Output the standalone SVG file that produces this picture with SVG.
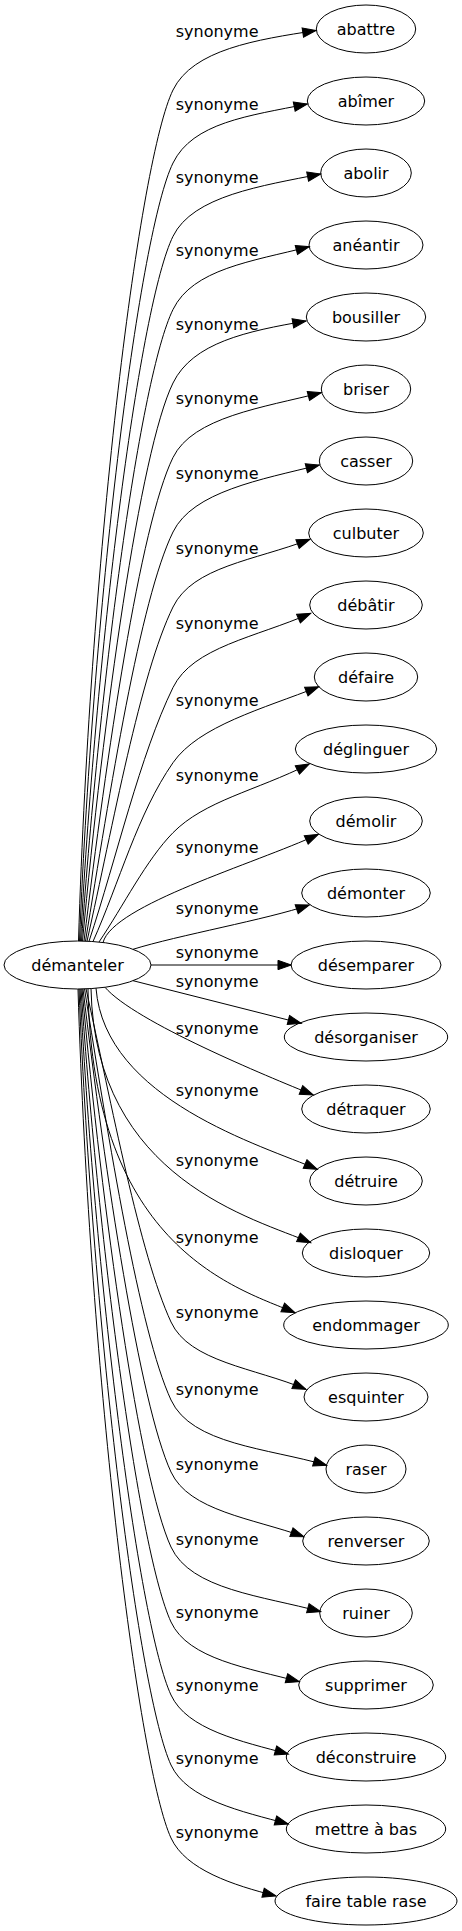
<svg xmlns="http://www.w3.org/2000/svg" width="462" height="1931" viewBox="0 0 462 1931">
<style>
text{font-family:"DejaVu Sans","Liberation Sans",sans-serif;font-size:16px;fill:#000;text-anchor:middle}
.node ellipse{fill:none;stroke:#000;stroke-width:1}
#edges path{fill:none;stroke:#000;stroke-width:1;marker-end:url(#arr)}
</style>
<defs>
<marker id="arr" markerUnits="userSpaceOnUse" markerWidth="14" markerHeight="10" viewBox="0 0 14 10" refX="13.33" refY="5" orient="auto" overflow="visible">
<path d="M0,0.33 L13.33,5 L0,9.67 Z" fill="#000" stroke="#000" stroke-width="1"/>
</marker>
</defs>
<rect width="462" height="1931" fill="#fff"/>
<g id="edges">
<path d="M78.5,941 C90.8,541 140,157.5 173,90 C192.8,49.5 256.7,39.6 316,30.5"/>
<path d="M79.5,941 C93.9,588.6 140,230.5 173,163 C192.8,122.5 248.5,115.9 307.3,104"/>
<path d="M80.5,941 C97.1,634 140,303.8 173,236.3 C192.8,195.8 261.9,185.8 320.7,174"/>
<path d="M81.5,941 C100.1,676.8 140,377 173,309.5 C192.8,269 251.2,261.5 309.3,246.7"/>
<path d="M82.5,941.1 C103.2,717.2 140,450.5 173,383 C192.8,342.5 246.9,331.2 306,321"/>
<path d="M84,941.1 C106.5,755.5 140,525 173,457.5 C192.8,417 263.2,407.5 321.3,392.7"/>
<path d="M85.5,941.1 C109.9,791.3 140,599.5 173,532 C192.8,491.5 261,479.5 319.3,465"/>
<path d="M87,941.2 C113.1,824.7 140,674.5 173,607 C192.8,566.5 254,560.7 310,539.3"/>
<path d="M89,941.3 C116.7,857.5 140,755 173,687.5 C192.8,647 255.7,637.4 310.7,613.3"/>
<path d="M93,941.5 C119.4,882.5 137.3,814 173,762.7 C198.7,725.8 262.9,708.7 318.7,686.7"/>
<path d="M99,942 C123.4,905.9 146.2,859.9 173,832.7 C204.5,800.7 255.7,790.8 309.3,764"/>
<path d="M103,942.5 C113,905 254.8,863.7 318.3,834.3"/>
<path d="M133,949.3 C178,935.3 266.7,919.5 309.3,905"/>
<path d="M151,965 L291.3,965"/>
<path d="M133,980.7 L301.3,1023.3"/>
<path d="M105,987.3 C135,1022 267,1076.2 313.3,1095"/>
<path d="M96,988.2 C105,1100 262.2,1145.5 317.3,1169.3"/>
<path d="M91,988.6 C95,1180 255.7,1218.8 310.7,1242.7"/>
<path d="M88,988.75 C92,1250 239.8,1289.1 295,1312.7"/>
<path d="M86,988.8 C111.8,1104.8 139.5,1253.7 171,1322 C189.5,1362 254.3,1367.7 306,1389.3"/>
<path d="M84.5,988.9 C108.5,1139.6 139.5,1331.7 171,1400 C191.6,1444.6 267.2,1448 326.7,1465.3"/>
<path d="M83,988.9 C105.3,1174.2 139.5,1403.7 171,1472 C189.1,1511.1 252.2,1518.2 304,1536.7"/>
<path d="M82,988.9 C102.3,1212.8 139.5,1478.7 171,1547 C190.7,1589.8 262.9,1595.9 320.7,1611.7"/>
<path d="M81,989 C99.3,1254.1 139.5,1553.7 171,1622 C188.2,1659.3 249.1,1668.2 299.3,1681.7"/>
<path d="M80,989 C96.3,1296.7 139.5,1626.7 171,1695 C187,1729.6 241,1741.3 288.3,1754"/>
<path d="M79,989 C93.3,1340.1 139.5,1696.7 171,1765 C187,1799.6 241,1811.3 288.3,1824"/>
<path d="M78,989 C90.2,1387.6 139.5,1769.7 171,1838 C185.7,1869.9 233.4,1885.2 276,1896"/>
</g>
<g id="edge-labels">
<text x="217.1" y="36.5">synonyme</text>
<text x="217.1" y="109.5">synonyme</text>
<text x="217.1" y="182.8">synonyme</text>
<text x="217.1" y="256">synonyme</text>
<text x="217.1" y="329.5">synonyme</text>
<text x="217.1" y="404">synonyme</text>
<text x="217.1" y="478.5">synonyme</text>
<text x="217.1" y="553.5">synonyme</text>
<text x="217.1" y="629">synonyme</text>
<text x="217.1" y="706.2">synonyme</text>
<text x="217.1" y="781.2">synonyme</text>
<text x="217.1" y="852.5">synonyme</text>
<text x="217.1" y="913.5">synonyme</text>
<text x="217.1" y="957.8">synonyme</text>
<text x="217.1" y="986.5">synonyme</text>
<text x="217.1" y="1033.5">synonyme</text>
<text x="217.1" y="1096.2">synonyme</text>
<text x="217.1" y="1166.2">synonyme</text>
<text x="217.1" y="1242.8">synonyme</text>
<text x="217.1" y="1317.8">synonyme</text>
<text x="217.1" y="1394.5">synonyme</text>
<text x="217.1" y="1469.5">synonyme</text>
<text x="217.1" y="1544.5">synonyme</text>
<text x="217.1" y="1617.5">synonyme</text>
<text x="217.1" y="1690.5">synonyme</text>
<text x="217.1" y="1763.8">synonyme</text>
<text x="217.1" y="1837.8">synonyme</text>
</g>
<g id="n-demanteler" class="node"><ellipse cx="77.5" cy="965" rx="73.5" ry="24"/><text x="77.5" y="970.5">démanteler</text></g>
<g id="n-abattre" class="node"><ellipse cx="366" cy="29" rx="49.7" ry="24"/><text x="366" y="34.5">abattre</text></g>
<g id="n-abimer" class="node"><ellipse cx="366" cy="101" rx="58.7" ry="24"/><text x="366" y="106.5">abîmer</text></g>
<g id="n-abolir" class="node"><ellipse cx="366" cy="173" rx="45.3" ry="24"/><text x="366" y="178.5">abolir</text></g>
<g id="n-aneantir" class="node"><ellipse cx="366" cy="245" rx="57" ry="24"/><text x="366" y="250.5">anéantir</text></g>
<g id="n-bousiller" class="node"><ellipse cx="366" cy="317" rx="59.7" ry="24"/><text x="366" y="322.5">bousiller</text></g>
<g id="n-briser" class="node"><ellipse cx="366" cy="389" rx="44.7" ry="24"/><text x="366" y="394.5">briser</text></g>
<g id="n-casser" class="node"><ellipse cx="366" cy="461" rx="46.7" ry="24"/><text x="366" y="466.5">casser</text></g>
<g id="n-culbuter" class="node"><ellipse cx="366" cy="533" rx="57.3" ry="24"/><text x="366" y="538.5">culbuter</text></g>
<g id="n-debatir" class="node"><ellipse cx="366" cy="605" rx="56.3" ry="24"/><text x="366" y="610.5">débâtir</text></g>
<g id="n-defaire" class="node"><ellipse cx="366" cy="677" rx="51.7" ry="24"/><text x="366" y="682.5">défaire</text></g>
<g id="n-deglinguer" class="node"><ellipse cx="366" cy="749" rx="70.7" ry="24"/><text x="366" y="754.5">déglinguer</text></g>
<g id="n-demolir" class="node"><ellipse cx="366" cy="821" rx="56.3" ry="24"/><text x="366" y="826.5">démolir</text></g>
<g id="n-demonter" class="node"><ellipse cx="366" cy="893" rx="64.3" ry="24"/><text x="366" y="898.5">démonter</text></g>
<g id="n-desemparer" class="node"><ellipse cx="366" cy="965" rx="75" ry="24"/><text x="366" y="970.5">désemparer</text></g>
<g id="n-desorganiser" class="node"><ellipse cx="366" cy="1037" rx="81.7" ry="24"/><text x="366" y="1042.5">désorganiser</text></g>
<g id="n-detraquer" class="node"><ellipse cx="366" cy="1109" rx="64.3" ry="24"/><text x="366" y="1114.5">détraquer</text></g>
<g id="n-detruire" class="node"><ellipse cx="366" cy="1181" rx="56.3" ry="24"/><text x="366" y="1186.5">détruire</text></g>
<g id="n-disloquer" class="node"><ellipse cx="366" cy="1253" rx="63.7" ry="24"/><text x="366" y="1258.5">disloquer</text></g>
<g id="n-endommager" class="node"><ellipse cx="366" cy="1325" rx="82.3" ry="24"/><text x="366" y="1330.5">endommager</text></g>
<g id="n-esquinter" class="node"><ellipse cx="366" cy="1397" rx="62" ry="24"/><text x="366" y="1402.5">esquinter</text></g>
<g id="n-raser" class="node"><ellipse cx="366" cy="1469" rx="40" ry="24"/><text x="366" y="1474.5">raser</text></g>
<g id="n-renverser" class="node"><ellipse cx="366" cy="1541" rx="63.3" ry="24"/><text x="366" y="1546.5">renverser</text></g>
<g id="n-ruiner" class="node"><ellipse cx="366" cy="1613" rx="46.3" ry="24"/><text x="366" y="1618.5">ruiner</text></g>
<g id="n-supprimer" class="node"><ellipse cx="366" cy="1685" rx="67.3" ry="24"/><text x="366" y="1690.5">supprimer</text></g>
<g id="n-deconstruire" class="node"><ellipse cx="366" cy="1757" rx="79.7" ry="24"/><text x="366" y="1762.5">déconstruire</text></g>
<g id="n-mettre-a-bas" class="node"><ellipse cx="366" cy="1829" rx="79.7" ry="24"/><text x="366" y="1834.5">mettre à bas</text></g>
<g id="n-faire-table-rase" class="node"><ellipse cx="366" cy="1901" rx="91" ry="24"/><text x="366" y="1906.5">faire table rase</text></g>
</svg>
